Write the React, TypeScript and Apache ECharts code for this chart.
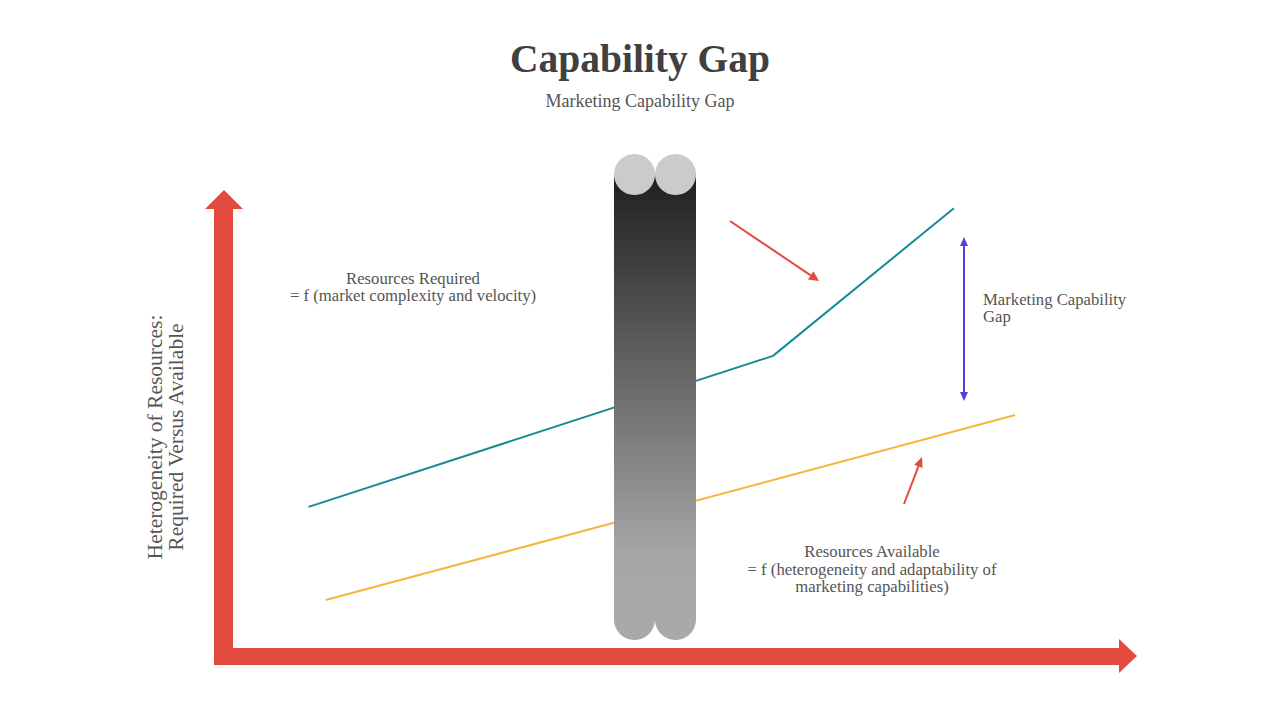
import React, { useEffect, useRef } from "react";
import * as echarts from "echarts";

// Data (units of the hidden 0–100 axes)
const requiredX = [9.4, 61.0, 81.1];
const requiredY = [32.0, 64.4, 96.1];
const availableX = [11.3, 87.9];
const availableY = [12.0, 51.7];

const titleText = "Capability Gap";
const subtitleText = "Marketing Capability Gap";
const yAxisLabel = "Heterogeneity of Resources:\nRequired Versus Available";
const requiredLabel = "Resources Required\n= f (market complexity and velocity)";
const availableLabel =
  "Resources Available\n= f (heterogeneity and adaptability of\nmarketing capabilities)";
const gapLabel = "Marketing Capability\nGap";

const RED = "#e24a3e";
const TEAL = "#168b95";
const ORANGE = "#f8b43c";
const BLUE = "#5540db";
const TEXT = "#555555";
const SERIF = "'Liberation Serif', 'DejaVu Serif', serif";

function arrow(x1: number, y1: number, x2: number, y2: number, color: string, len: number, half: number, width: number, z: number) {
  const dx = x2 - x1;
  const dy = y2 - y1;
  const L = Math.sqrt(dx * dx + dy * dy);
  const ux = dx / L;
  const uy = dy / L;
  const bx = x2 - ux * len;
  const by = y2 - uy * len;
  const px = -uy * half;
  const py = ux * half;
  return [
    { type: "line", z, shape: { x1, y1, x2: bx, y2: by }, style: { stroke: color, lineWidth: width } },
    {
      type: "polygon",
      z,
      shape: { points: [[x2, y2], [bx + px, by + py], [bx - px, by - py]] },
      style: { fill: color },
    },
  ];
}

export default function App() {
  const ref = useRef<HTMLDivElement>(null);
  useEffect(() => {
    if (!ref.current) return;
    const chart = echarts.init(ref.current, undefined, { renderer: "svg" });

    const cylL = 614;
    const cylR = 696;
    const r = 20.5;
    const cTop = 174.5;
    const cBot = 619.5;
    const c1 = cylL + r;
    const c2 = cylR - r;

    const graphics: any[] = [
      // Y axis arrow
      { type: "rect", z: 20, shape: { x: 214, y: 208, width: 19, height: 457 }, style: { fill: RED } },
      { type: "polygon", z: 20, shape: { points: [[205, 209], [224, 190], [243, 209]] }, style: { fill: RED } },
      // X axis arrow
      { type: "rect", z: 20, shape: { x: 214, y: 648, width: 906, height: 17 }, style: { fill: RED } },
      { type: "polygon", z: 20, shape: { points: [[1119, 639], [1137, 656], [1119, 673]] }, style: { fill: RED } },
      // Cylinder
      {
        type: "rect",
        z: 30,
        shape: { x: cylL, y: cTop, width: cylR - cylL, height: cBot - cTop },
        style: {
          fill: new echarts.graphic.LinearGradient(0, 0, 0, 1, [
            { offset: 0, color: "#1f1f1f" },
            { offset: 0.85, color: "#a6a6a6" },
            { offset: 1, color: "#a9a9a9" },
          ]),
        },
      },
      { type: "circle", z: 30, shape: { cx: c1, cy: cBot, r }, style: { fill: "#a9a9a9" } },
      { type: "circle", z: 30, shape: { cx: c2, cy: cBot, r }, style: { fill: "#a9a9a9" } },
      { type: "circle", z: 31, shape: { cx: c1, cy: cTop, r }, style: { fill: "#cbcbcb" } },
      { type: "circle", z: 31, shape: { cx: c2, cy: cTop, r }, style: { fill: "#cbcbcb" } },
      // Annotation arrows
      ...arrow(730, 221, 819, 281, RED, 10, 5, 2, 15),
      ...arrow(904, 504, 922, 457, RED, 10, 4.5, 2, 15),
      ...arrow(964, 318, 964, 237, BLUE, 9, 4, 2, 15),
      ...arrow(964, 318, 964, 401, BLUE, 9, 4, 2, 15),
      // Texts
      {
        type: "text",
        z: 15,
        x: 165,
        y: 437,
        rotation: Math.PI / 2,
        style: {
          text: yAxisLabel,
          fill: TEXT,
          font: `21.5px ${SERIF}`,
          align: "center",
          verticalAlign: "middle",
          lineHeight: 21,
        },
      },
      {
        type: "text",
        z: 15,
        x: 413,
        y: 287,
        style: { text: requiredLabel, fill: TEXT, font: `16.7px ${SERIF}`, align: "center", verticalAlign: "middle", lineHeight: 17.5 },
      },
      {
        type: "text",
        z: 15,
        x: 872,
        y: 569,
        style: { text: availableLabel, fill: TEXT, font: `16.7px ${SERIF}`, align: "center", verticalAlign: "middle", lineHeight: 17.5 },
      },
      {
        type: "text",
        z: 15,
        x: 983,
        y: 308,
        style: { text: gapLabel, fill: TEXT, font: `16.7px ${SERIF}`, align: "left", verticalAlign: "middle", lineHeight: 17.5 },
      },
      {
        type: "text",
        z: 15,
        x: 640,
        y: 59,
        style: { text: titleText, fill: "#404040", font: `bold 39.5px ${SERIF}`, align: "center", verticalAlign: "middle" },
      },
      {
        type: "text",
        z: 15,
        x: 640,
        y: 101,
        style: { text: subtitleText, fill: TEXT, font: `18px ${SERIF}`, align: "center", verticalAlign: "middle" },
      },
    ];

    chart.setOption({
      animation: false,
      backgroundColor: "#ffffff",
      grid: { left: 224, right: 156, top: 190, bottom: 64, containLabel: false },
      xAxis: { type: "value", min: 0, max: 100, show: false },
      yAxis: { type: "value", min: 0, max: 100, show: false },
      series: [
        {
          name: "Resources Required",
          type: "line",
          z: 2,
          data: requiredX.map((x, i) => [x, requiredY[i]]),
          symbol: "none",
          lineStyle: { color: TEAL, width: 2 },
        },
        {
          name: "Resources Available",
          type: "line",
          z: 2,
          data: availableX.map((x, i) => [x, availableY[i]]),
          symbol: "none",
          lineStyle: { color: ORANGE, width: 2 },
        },
      ],
      graphic: { elements: graphics },
    });
    return () => chart.dispose();
  }, []);
  return <div ref={ref} style={{ position: "fixed", left: 0, top: 0, width: 1280, height: 720 }} />;
}
